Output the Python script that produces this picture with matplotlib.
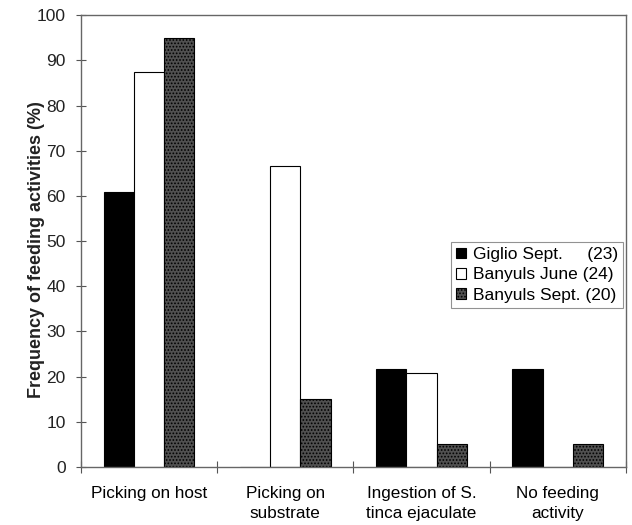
import numpy as np
import matplotlib
matplotlib.use("Agg")
import matplotlib.pyplot as plt

plt.rcParams['font.family'] = ['Liberation Sans', 'DejaVu Sans']
plt.rcParams['hatch.color'] = '#9a9a9a'
plt.rcParams['hatch.linewidth'] = 0.8

categories = ["Picking on host", "Picking on\nsubstrate",
              "Ingestion of S.\ntinca ejaculate", "No feeding\nactivity"]
giglio_sept = [60.9, 0.0, 21.7, 21.7]
banyuls_june = [87.5, 66.7, 20.8, 0.0]
banyuls_sept = [95.0, 15.0, 5.0, 5.0]
series_labels = ["Giglio Sept.     (23)", "Banyuls June (24)", "Banyuls Sept. (20)"]

fig = plt.figure(figsize=(6.32, 5.25), dpi=100)
ax = fig.add_axes([0.128, 0.1105, 0.8625, 0.8605])

x = np.arange(len(categories))
w = 0.222
ax.bar(x - w, giglio_sept, w, color='black', edgecolor='black', linewidth=0.8,
       label=series_labels[0])
ax.bar(x, banyuls_june, w, color='white', edgecolor='black', linewidth=0.8,
       label=series_labels[1])
ax.bar(x + w, banyuls_sept, w, color='#505050', edgecolor='black', linewidth=0.8,
       hatch='.....', label=series_labels[2])

ax.set_xlim(-0.5, len(categories) - 0.5)
ax.set_ylim(0, 100)
ax.set_yticks(np.arange(0, 101, 10))
ax.set_xticks(np.arange(len(categories) + 1) - 0.5, minor=False)
ax.set_xticklabels([])
ax.set_xticks(x, minor=True)
ax.set_xticklabels(categories, minor=True, fontsize=12.3, linespacing=1.35)
ax.tick_params(axis='x', which='minor', length=0, pad=14)
ax.tick_params(axis='x', which='major', direction='inout', length=8, color='#555555')
ax.tick_params(axis='y', direction='inout', length=7, color='#555555', labelsize=12.5,
               pad=7.5, labelcolor='#222222')

for s in ax.spines.values():
    s.set_color('#666666')
    s.set_linewidth(1.0)

ax.set_ylabel("Frequency of feeding activities (%)", fontsize=13, fontweight='bold',
              color='#222222')
ax.yaxis.set_label_coords(-0.066, 0.482)

leg = ax.legend(loc='upper right', bbox_to_anchor=(0.9945, 0.498), fontsize=12.5,
                frameon=True, fancybox=False, edgecolor='#777777',
                handlelength=0.55, handleheight=0.55, handletextpad=0.4,
                borderpad=0.3, labelspacing=0.3, borderaxespad=0)
leg.get_frame().set_linewidth(0.8)

fig.savefig("out.png", dpi=100)
